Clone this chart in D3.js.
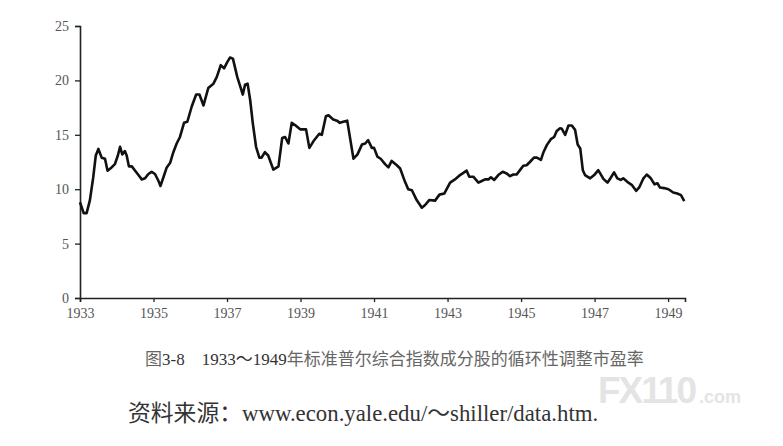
<!DOCTYPE html>
<html>
<head>
<meta charset="utf-8">
<script src="https://cdn.jsdelivr.net/npm/d3@7"></script>
<style>
  body { margin: 0; background: #fff; }
  svg { display: block; }
</style>
</head>
<body>
<div id="chart"></div>
<script>
// annees (decimales) et CAPE
const years = [
  1933.00, 1933.10, 1933.18, 1933.27, 1933.36, 1933.43, 1933.50, 1933.59, 1933.68, 1933.75,
  1933.86, 1933.95, 1934.03, 1934.09, 1934.15, 1934.22, 1934.27, 1934.33, 1934.41, 1934.50,
  1934.59, 1934.68, 1934.77, 1934.86, 1934.95, 1935.04, 1935.13, 1935.19, 1935.27, 1935.36,
  1935.45, 1935.54, 1935.63, 1935.72, 1935.83, 1935.92, 1936.04, 1936.16, 1936.25, 1936.36,
  1936.49, 1936.63, 1936.72, 1936.83, 1936.92, 1937.01, 1937.08, 1937.16, 1937.28, 1937.43,
  1937.49, 1937.56, 1937.63, 1937.70, 1937.79, 1937.88, 1937.94, 1938.03, 1938.12, 1938.26,
  1938.40, 1938.50, 1938.58, 1938.67, 1938.76, 1938.85, 1938.99, 1939.15, 1939.24, 1939.35,
  1939.51, 1939.58, 1939.69, 1939.76, 1939.89, 1939.99, 1940.07, 1940.16, 1940.27, 1940.44,
  1940.55, 1940.67, 1940.76, 1940.84, 1940.94, 1941.00, 1941.09, 1941.18, 1941.30, 1941.39,
  1941.48, 1941.62, 1941.71, 1941.84, 1941.93, 1942.03, 1942.16, 1942.30, 1942.39, 1942.50,
  1942.66, 1942.78, 1942.91, 1943.07, 1943.20, 1943.34, 1943.43, 1943.52, 1943.59, 1943.70,
  1943.84, 1943.93, 1944.02, 1944.11, 1944.18, 1944.27, 1944.38, 1944.50, 1944.61, 1944.70,
  1944.79, 1944.88, 1944.97, 1945.06, 1945.15, 1945.24, 1945.35, 1945.43, 1945.54, 1945.61,
  1945.70, 1945.81, 1945.90, 1945.97, 1946.06, 1946.11, 1946.20, 1946.29, 1946.38, 1946.47,
  1946.54, 1946.61, 1946.68, 1946.74, 1946.88, 1946.99, 1947.10, 1947.24, 1947.35, 1947.44,
  1947.53, 1947.62, 1947.71, 1947.78, 1947.92, 1948.01, 1948.13, 1948.22, 1948.33, 1948.42,
  1948.53, 1948.63, 1948.71, 1948.78, 1948.89, 1949.01, 1949.14, 1949.25, 1949.35, 1949.44
];
const cape = [
  8.8, 7.8, 7.8, 9.0, 11.1, 13.1, 13.7, 12.9, 12.8, 11.7,
  12.0, 12.3, 13.1, 13.9, 13.2, 13.5, 13.1, 12.1, 12.1, 11.7,
  11.3, 10.9, 11.0, 11.4, 11.6, 11.4, 10.8, 10.3, 11.1, 12.0,
  12.4, 13.4, 14.2, 14.8, 16.1, 16.2, 17.6, 18.7, 18.7, 17.7,
  19.3, 19.7, 20.3, 21.4, 21.1, 21.7, 22.1, 22.0, 20.3, 18.7,
  19.6, 19.7, 18.2, 16.1, 13.9, 12.9, 12.9, 13.4, 13.1, 11.8,
  12.1, 14.7, 14.8, 14.2, 16.1, 15.9, 15.5, 15.5, 13.8, 14.4,
  15.1, 15.0, 16.7, 16.8, 16.4, 16.3, 16.1, 16.2, 16.3, 12.8,
  13.2, 14.1, 14.2, 14.5, 13.8, 13.8, 13.0, 12.8, 12.3, 12.0,
  12.6, 12.2, 11.9, 10.7, 10.0, 9.9, 9.0, 8.3, 8.55, 9.0,
  8.95, 9.5, 9.6, 10.6, 10.9, 11.3, 11.5, 11.7, 11.15, 11.15,
  10.6, 10.75, 10.9, 10.9, 11.1, 10.85, 11.3, 11.6, 11.45, 11.2,
  11.35, 11.35, 11.75, 12.15, 12.2, 12.5, 12.9, 12.9, 12.7, 13.4,
  14.05, 14.6, 14.8, 15.35, 15.6, 15.55, 15.0, 15.85, 15.85, 15.45,
  14.1, 13.75, 11.75, 11.3, 11.0, 11.3, 11.75, 10.95, 10.6, 11.05,
  11.55, 11.0, 10.85, 11.0, 10.6, 10.4, 9.85, 10.2, 11.0, 11.35,
  11.0, 10.45, 10.55, 10.15, 10.1, 10.0, 9.7, 9.6, 9.45, 8.9
];
const xTicks = [1933, 1935, 1937, 1939, 1941, 1943, 1945, 1947, 1949];
const yTicks = [0, 5, 10, 15, 20, 25];
// legende decoupee : [texte, couleur]
const captionParts = [
  ["图", "#666"],
  ["3-8　1933～1949", "#333"],
  ["年标准普尔综合指数成分股的循环性调整市盈率", "#666"]
];
const source = "资料来源：www.econ.yale.edu/～shiller/data.htm.";

const width = 783;
const height = 446;

const svg = d3.select("#chart")
  .append("svg")
  .attr("width", width)
  .attr("height", height);

// echelles
const x = d3.scaleLinear().domain([1933, 1949.46]).range([80, 685]);
const y = d3.scaleLinear().domain([0, 25]).range([298, 26]);

// axe x
const gx = svg.append("g")
  .attr("transform", "translate(0," + y(0) + ")")
  .call(d3.axisBottom(x).tickValues(xTicks).tickFormat(d3.format("d"))
    .tickSizeOuter(0).tickSize(4).tickPadding(6));

// axe y
const gy = svg.append("g")
  .attr("transform", "translate(" + x(1933) + ",0)")
  .call(d3.axisLeft(y).tickValues(yTicks).tickSizeOuter(0).tickSize(5).tickPadding(6));

[gx, gy].forEach(function (g) {
  g.select(".domain").attr("stroke", "#222").attr("stroke-width", 1.6);
  g.selectAll(".tick line").attr("stroke", "#222").attr("stroke-width", 1.3);
  g.selectAll(".tick text")
    .attr("fill", "#555")
    .style("font-family", "'Liberation Serif', serif")
    .style("font-size", "14px");
});

// courbe
const line = d3.line()
  .x(function (d, i) { return x(years[i]); })
  .y(function (d) { return y(d); })
  .curve(d3.curveLinear);

svg.append("path")
  .datum(cape)
  .attr("fill", "none")
  .attr("stroke", "#111")
  .attr("stroke-width", 2.6)
  .attr("stroke-linejoin", "round")
  .attr("d", line);

// legende du graphique
const cap = svg.append("text")
  .attr("x", 145)
  .attr("y", 365)
  .style("font-family", "'Liberation Serif', 'Noto Sans CJK SC', serif")
  .style("font-size", "17px");
captionParts.forEach(function (p) {
  cap.append("tspan").attr("fill", p[1]).text(p[0]);
});

// source
svg.append("text")
  .attr("x", 128)
  .attr("y", 421)
  .attr("fill", "#333")
  .style("font-family", "'Liberation Serif', 'Noto Sans CJK SC', serif")
  .style("font-size", "22.8px")
  .text(source);

// filigrane
const wm = svg.append("text")
  .attr("x", 598)
  .attr("y", 403)
  .attr("fill", "#e4e4e4")
  .style("font-family", "'Liberation Sans', Arial, sans-serif")
  .style("font-weight", "bold");
wm.append("tspan").style("font-size", "37px").style("letter-spacing", "-2px").text("FX110");
wm.append("tspan").attr("dx", 4).style("font-size", "18px").text(".com");
</script>
</body>
</html>
